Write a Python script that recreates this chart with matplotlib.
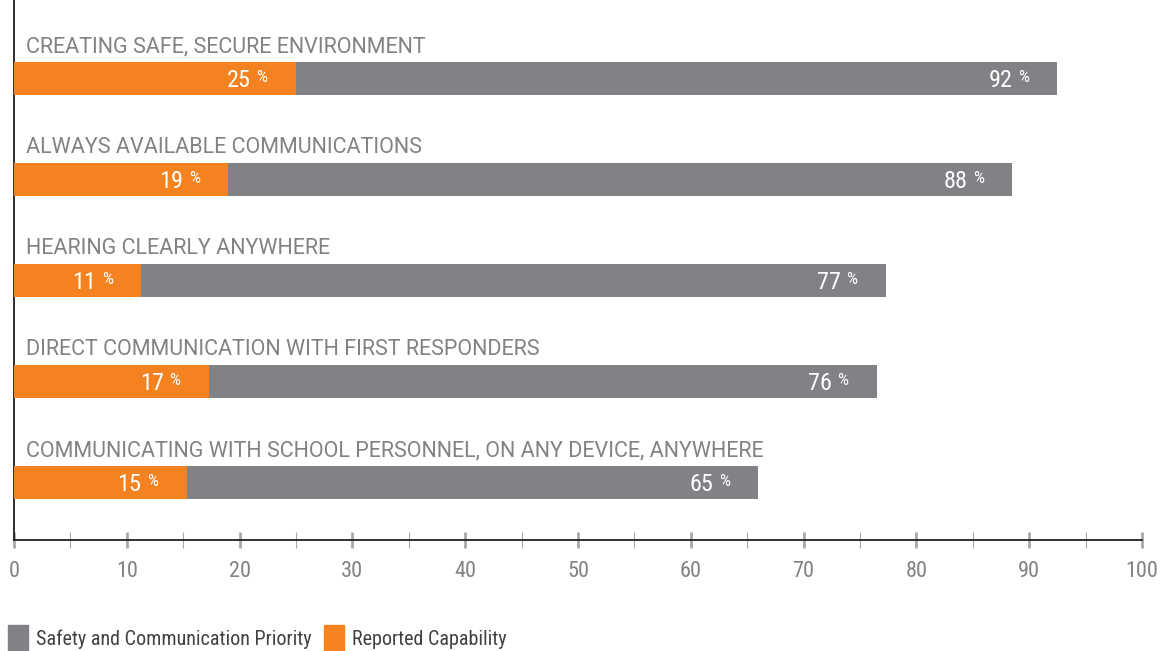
# Survey chart: safety & communication priority vs reported capability
import matplotlib.pyplot as plt
from matplotlib.patches import Patch

# data
categories = ["CREATING SAFE, SECURE ENVIRONMENT",
              "ALWAYS AVAILABLE COMMUNICATIONS",
              "HEARING CLEARLY ANYWHERE",
              "DIRECT COMMUNICATION WITH FIRST RESPONDERS",
              "COMMUNICATING WITH SCHOOL PERSONNEL, ON ANY DEVICE, ANYWHERE"]
priority = [92.5, 88.5, 77.3, 76.5, 66.0]
capability = [25.0, 19.0, 11.3, 17.3, 15.3]
priority_labels = ["92", "88", "77", "76", "65"]
capability_labels = ["25", "19", "11", "17", "15"]
xticks = list(range(0, 101, 10))

GRAY = "#808285"
ORANGE = "#f58220"
TXT = "#808285"
DARK = "#414042"

# condensed faces first if present, otherwise Roboto
font = ["Roboto Condensed", "DejaVu Sans Condensed", "Liberation Sans Narrow",
        "Roboto", "DejaVu Sans"]
plt.rcParams["font.family"] = font
wide = ["Roboto", "DejaVu Sans"]

fig = plt.figure(figsize=(11.6, 6.51), dpi=100)
ax = fig.add_axes([14 / 1160, 111 / 651, 1128 / 1160, 540 / 651])

ypos = list(range(len(categories)))
h = 0.327
ax.barh(ypos, priority, height=h, color=GRAY, zorder=2)
ax.barh(ypos, capability, height=h, color=ORANGE, zorder=3)

ax.set_xlim(0, 100)
ax.set_ylim(4.569, -0.777)

# category titles above each bar
for y, cat in zip(ypos, categories):
    ax.text(1.06, y - 0.262, cat, color=TXT, fontsize=15.5, va="baseline",
            ha="left", family=wide)

# value labels inside the bars
def value_label(x, y, txt):
    ax.annotate(txt, (x, y), xytext=(-32.4, -5.8), textcoords="offset points",
                ha="right", va="baseline", color="white", fontsize=17.5, zorder=5)
    ax.annotate("%", (x, y), xytext=(-28.5, -2.5), textcoords="offset points",
                ha="left", va="baseline", color="white", fontsize=12.5, zorder=5)

for y, v, t in zip(ypos, priority, priority_labels):
    value_label(v, y, t)
for y, v, t in zip(ypos, capability, capability_labels):
    value_label(v, y, t)

# axes styling
for s in ["top", "right"]:
    ax.spines[s].set_visible(False)
ax.spines["left"].set_color("#231f20")
ax.spines["bottom"].set_color("#231f20")
ax.spines["left"].set_linewidth(1.3)
ax.spines["bottom"].set_linewidth(1.3)
ax.set_yticks([])
ax.set_xticks(xticks)
ax.set_xticks(range(5, 100, 10), minor=True)
ax.tick_params(axis="x", which="major", direction="inout", length=12.2, width=2,
               color="#a7a9ac", labelcolor=TXT, labelsize=16, pad=9)
ax.tick_params(axis="x", which="minor", direction="inout", length=12.2, width=0.8,
               color="#a7a9ac")

# legend
handles = [Patch(color=GRAY, label="Safety and Communication Priority"),
           Patch(color=ORANGE, label="Reported Capability")]
fig.legend(handles=handles, loc="lower left", bbox_to_anchor=(8 / 1160, 0),
           ncol=2, frameon=False, fontsize=14.5, labelcolor=DARK,
           handlelength=1.0, handleheight=1.6, handletextpad=0.4,
           columnspacing=0.6, borderpad=0, borderaxespad=0)

fig.savefig("out.png", dpi=100)
